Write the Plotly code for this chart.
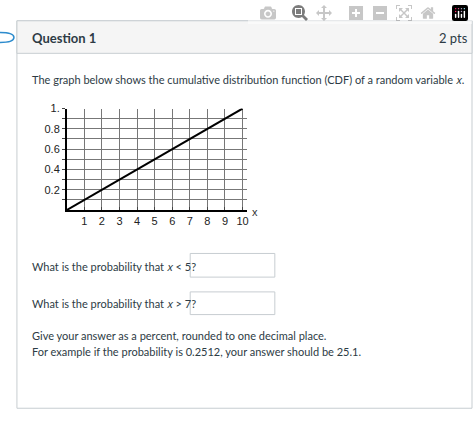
import plotly.graph_objects as go

# CDF of a uniform variable on [0, 10]
cdf_x = [0, 10]
cdf_y = [0, 1]
x_ticks = [1, 2, 3, 4, 5, 6, 7, 8, 9, 10]
y_ticks = [0.1, 0.2, 0.3, 0.4, 0.5, 0.6, 0.7, 0.8, 0.9, 1.0]
y_labels = ['', '0.2', '', '0.4', '', '0.6', '', '0.8', '', '1.']

W, H = 474, 425


def px(x):
    return x / W


def py(y):
    return 1 - y / H


fig = go.Figure()
fig.add_trace(go.Scatter(x=cdf_x, y=cdf_y, mode='lines',
                         line=dict(color='black', width=2), showlegend=False,
                         hoverinfo='skip'))

shapes = [
    # card border
    dict(type='rect', xref='paper', yref='paper', x0=px(17), x1=px(474), y0=py(408), y1=py(15),
         line=dict(color='#c7cdd1', width=1), fillcolor='white', layer='below'),
    # header band
    dict(type='rect', xref='paper', yref='paper', x0=px(17), x1=px(474), y0=py(48), y1=py(15),
         line=dict(color='#c7cdd1', width=1), fillcolor='#f5f5f5', layer='below'),
    # left tab curve
    dict(type='path', xref='paper', yref='paper',
         path=f'M 0 {py(27)} Q {px(14)} {py(27)} {px(14)} {py(32)} Q {px(14)} {py(37)} 0 {py(37)}',
         line=dict(color='#2d8ccd', width=1.5)),
    # answer boxes
    dict(type='rect', xref='paper', yref='paper', x0=px(191), x1=px(276), y0=py(275), y1=py(251),
         line=dict(color='#c7cdd1', width=1), fillcolor='white'),
    dict(type='rect', xref='paper', yref='paper', x0=px(191), x1=px(276), y0=py(313), y1=py(290),
         line=dict(color='#c7cdd1', width=1), fillcolor='white'),
]

body = dict(family='Lato', size=11, color='#2d3b45')
txt = dict(xref='paper', yref='paper', showarrow=False, xanchor='left', yanchor='middle', font=body)
annotations = [
    dict(txt, x=px(30), y=py(32), text='<b>Question 1</b>', font=dict(family='Lato', size=13, color='#2d3b45')),
    dict(txt, x=px(472), y=py(32), xanchor='right', text='2 pts', font=dict(family='Lato', size=13, color='#2d3b45')),
    dict(txt, x=px(30), y=py(75), text='The graph below shows the cumulative distribution function (CDF) of a random variable 𝑥.'),
    dict(txt, x=px(30), y=py(264), text='What is the probability that 𝑥 &lt; 5?'),
    dict(txt, x=px(30), y=py(302), text='What is the probability that 𝑥 &gt; 7?'),
    dict(txt, x=px(30), y=py(334), text='Give your answer as a percent, rounded to one decimal place.'),
    dict(txt, x=px(30), y=py(350), text='For example if the probability is 0.2512, your answer should be 25.1.'),
    dict(txt, x=px(251), y=py(209), text='x', font=dict(family='Liberation Sans', size=11, color='#333')),
]

axis_font = dict(family='Liberation Sans', size=11, color='#222')
fig.update_layout(
    width=W, height=H, margin=dict(l=0, r=0, t=0, b=0),
    paper_bgcolor='white', plot_bgcolor='white',
    shapes=shapes, annotations=annotations,
    xaxis=dict(domain=[px(67), px(248)], range=[0, 10.25], tickvals=x_ticks,
               showgrid=True, gridcolor='#777', gridwidth=1, zeroline=False,
               showline=True, linecolor='black', linewidth=1.5, ticks='inside', ticklen=3,
               tickfont=axis_font),
    yaxis=dict(domain=[py(207), py(104)], range=[0, 1.0], tickvals=y_ticks, ticktext=y_labels,
               showgrid=True, gridcolor='#777', gridwidth=1, zeroline=False,
               showline=True, linecolor='black', linewidth=1.5, ticks='outside', ticklen=3,
               tickfont=axis_font),
)

fig.write_html('out.html', post_script="document.body.style.margin='0';document.body.style.overflow='hidden';")
